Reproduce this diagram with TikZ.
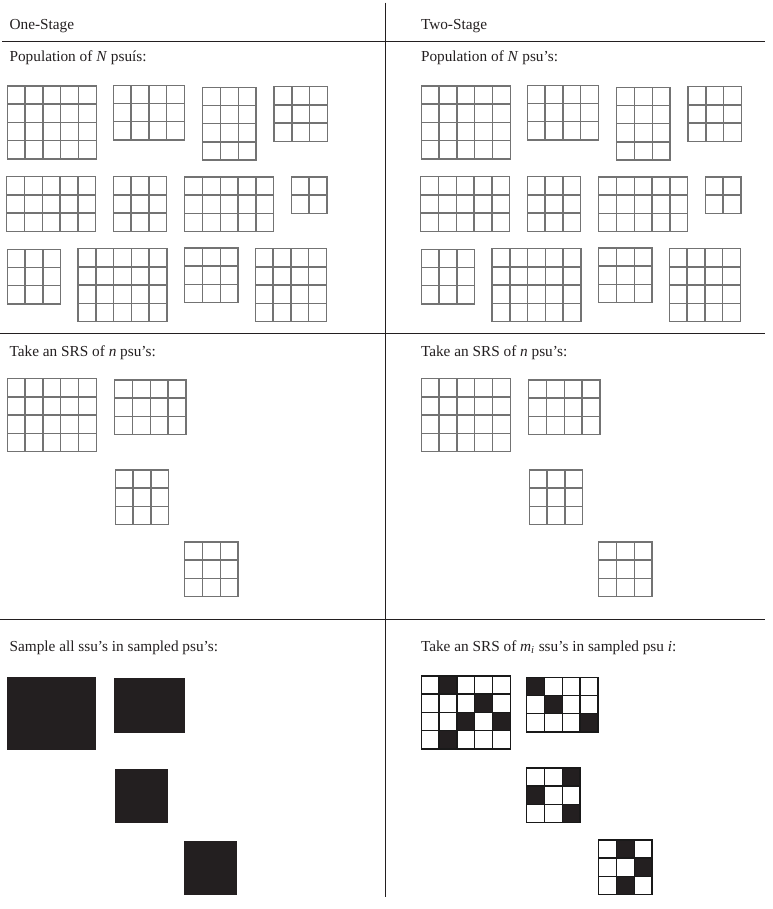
\documentclass[tikz,border=0pt]{standalone}
\usepackage{fontspec}
\setmainfont{Liberation Serif}
\definecolor{ink}{HTML}{231F20}
\begin{document}
\begin{tikzpicture}[x=.667pt,y=-.667pt,
    every node/.style={inner sep=0pt,anchor=base west,font=\fontsize{10.2}{12}\selectfont,text=ink},
    rule/.style={line width=.8pt,ink},
    psuline/.style={line width=.95pt,black!55,line cap=rect},
    ssufill/.style={fill=ink},
    pics/psu/.style 2 args={code={
        \foreach \c in {0,...,#1} \draw[psuline] (\c*17.8,0)--(\c*17.8,#2*18.2);
        \foreach \r in {0,...,#2} \draw[psuline] (0,\r*18.2)--(#1*17.8,\r*18.2);}},
    pics/psufull/.style 2 args={code={\fill[ssufill] (0,0) rectangle (#1*17.8,#2*18.2);}},
    pics/ssu/.style 2 args={code={\fill[ssufill] ({(#1-1)*17.8},{(#2-1)*18.2}) rectangle ++(17.8,18.2);}}]
    \useasboundingbox (0,0) rectangle (772,909);
    % ruling
    \draw[rule] (385.3,2.7)--(385.3,896.7)
    (2,41.3)--(765,41.3) (0,333.3)--(765,333.3) (0,619.3)--(765,619.3);
    % headings
    \path
    (9.3,29.5) node (one) {One-Stage}
    (420.7,29.5) node (two) {Two-Stage}
    (9.3,62) node (popL) {Population of \textit{N} psuís:}
    (420.7,62) node (popR) {Population of \textit{N} psu's:}
    (9.3,356) node (srsL) {Take an SRS of \textit{n} psu's:}
    (420.7,356) node (srsR) {Take an SRS of \textit{n} psu's:}
    (9.3,651.7) node (allL) {Sample all ssu's in sampled psu's:}
    (420.7,651.7) node (someR) {Take an SRS of \textit{m}\textsubscript{\textit{i}} ssu's in sampled psu \textit{i}:};
    % population and first stage, both sides
    \foreach \dx in {0,414}{
        \begin{scope}[shift={(\dx,0)}]
            \path
            (7.3,86) pic{psu={5}{4}} % <<< row 1
            (113.3,85.3) pic{psu={4}{3}}
            (202.7,87.3) pic{psu={3}{4}}
            (274,86.7) pic{psu={3}{3}}
            (6.7,176.7) pic{psu={5}{3}} % <<< row 2
            (113.3,176.7) pic{psu={3}{3}}
            (184.7,177) pic{psu={5}{3}}
            (291.3,177) pic{psu={2}{2}}
            (7.3,249.3) pic{psu={3}{3}} % <<< row 3
            (78,248.7) pic{psu={5}{4}}
            (184.7,248) pic{psu={3}{3}}
            (255.3,248.7) pic{psu={4}{4}};
            \path
            (7.3,378.7) pic{psu={5}{4}} % <<< sampled psu's
            (114.7,380) pic{psu={4}{3}}
            (115.3,470) pic{psu={3}{3}}
            (184.7,542) pic{psu={3}{3}};
        \end{scope}
    }
    % one-stage: every ssu
    \path
    (7.3,676.7) pic{psufull={5}{4}}
    (114,678) pic{psufull={4}{3}}
    (114.7,768.7) pic{psufull={3}{3}}
    (184,840.7) pic{psufull={3}{3}};
    % two-stage: some ssu's
    \begin{scope}[psuline/.append style={black!90}]
        \path (421.3,676) pic{ssu={2}{1}} pic{ssu={4}{2}} pic{ssu={3}{3}}
        pic{ssu={5}{3}} pic{ssu={2}{4}} pic{psu={5}{4}};
        \path (526.7,677.3) pic{ssu={1}{1}} pic{ssu={2}{2}} pic{ssu={4}{3}}
        pic{psu={4}{3}};
        \path (526.7,768) pic{ssu={3}{1}} pic{ssu={1}{2}} pic{ssu={3}{3}}
        pic{psu={3}{3}};
        \path (598.7,840) pic{ssu={2}{1}} pic{ssu={3}{2}} pic{ssu={2}{3}}
        pic{psu={3}{3}};
    \end{scope}
\end{tikzpicture}
\end{document}
